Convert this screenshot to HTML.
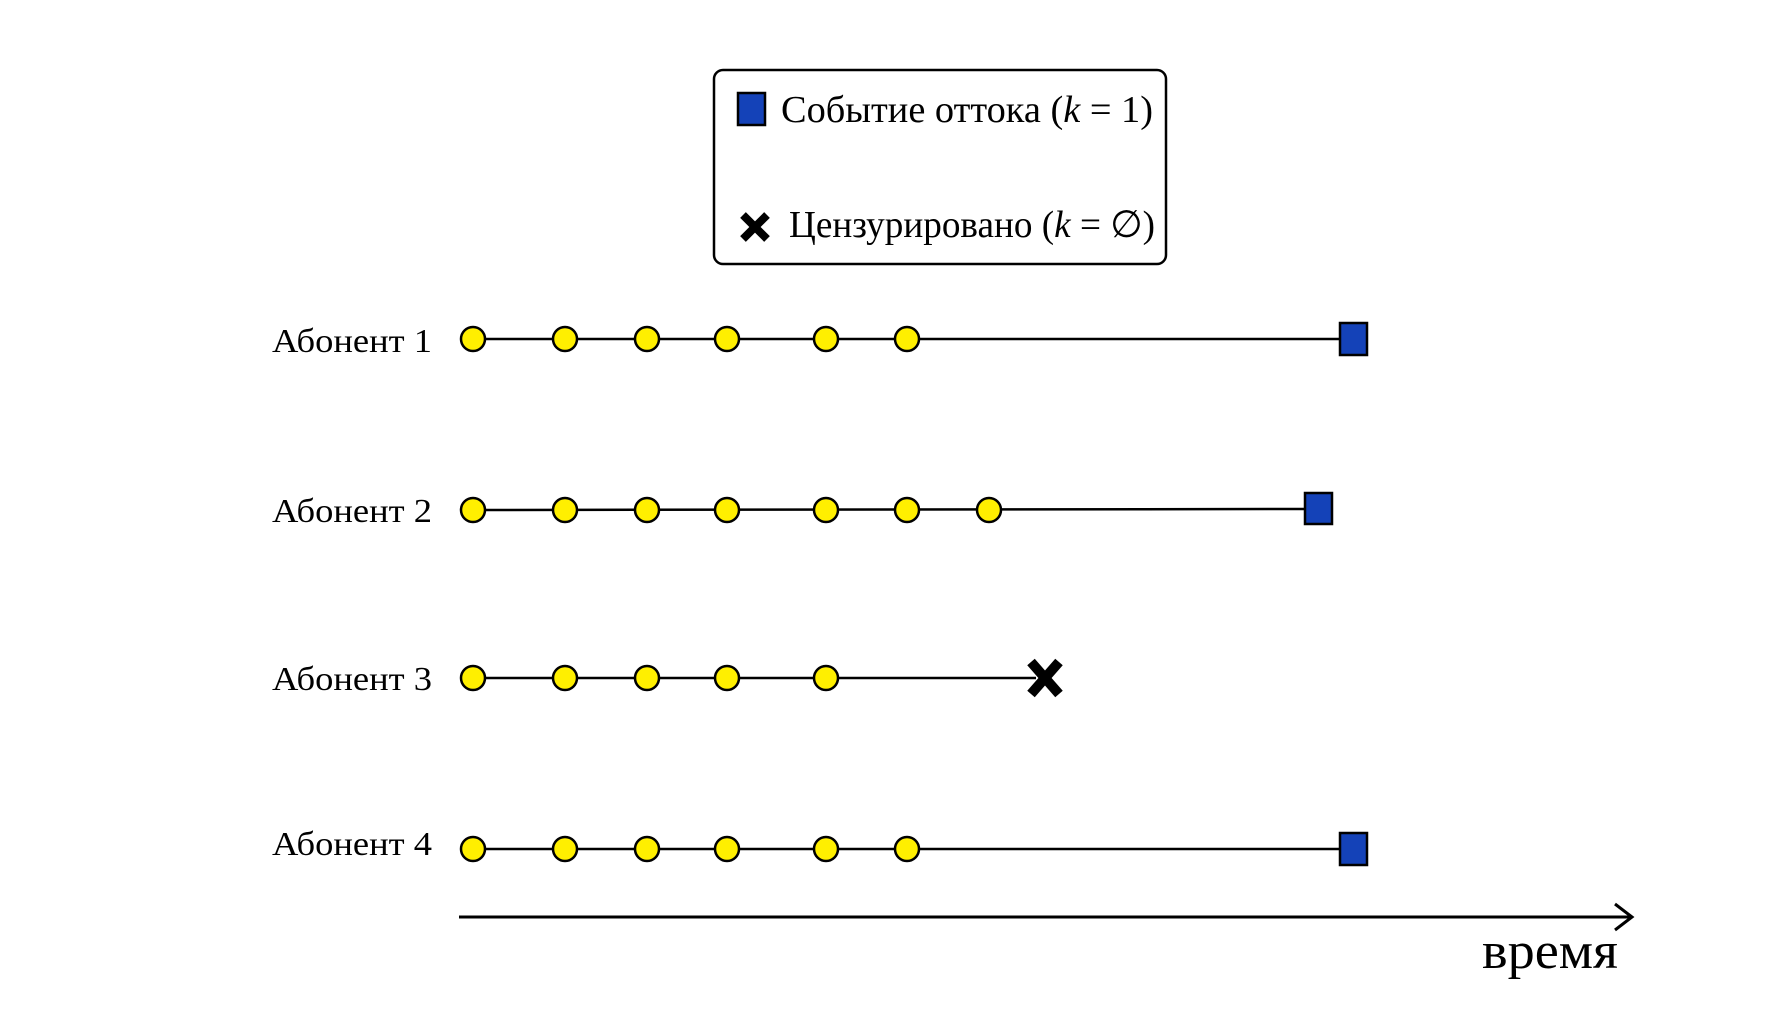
<!DOCTYPE html>
<html><head><meta charset="utf-8"><style>
html,body{margin:0;padding:0;background:#fff;}
svg text{font-family:"Liberation Serif",serif;fill:#000;}
</style></head><body>
<svg width="1769" height="1024" viewBox="0 0 1769 1024" xmlns="http://www.w3.org/2000/svg">
<rect x="714" y="70" width="452" height="194" rx="9" fill="#fff" stroke="#000" stroke-width="2.5"/>
<rect x="738" y="93" width="27" height="32" fill="#1442b8" stroke="#000" stroke-width="2.5"/>
<text x="781" y="122" font-size="38" textLength="372" lengthAdjust="spacingAndGlyphs">Событие оттока (<tspan font-style="italic">k</tspan> = 1)</text>
<g stroke="#000" stroke-width="8" stroke-linecap="butt"><line x1="743" y1="215" x2="767" y2="239"/><line x1="767" y1="215" x2="743" y2="239"/></g>
<text x="789" y="237" font-size="38" textLength="366" lengthAdjust="spacingAndGlyphs">Цензурировано (<tspan font-style="italic">k</tspan> = ∅)</text>

<g font-size="34">
<text x="272" y="352" textLength="160" lengthAdjust="spacingAndGlyphs">Абонент 1</text>
<text x="272" y="522" textLength="160" lengthAdjust="spacingAndGlyphs">Абонент 2</text>
<text x="272" y="690" textLength="160" lengthAdjust="spacingAndGlyphs">Абонент 3</text>
<text x="272" y="855" textLength="160" lengthAdjust="spacingAndGlyphs">Абонент 4</text>
</g>
<g stroke="#000" stroke-width="2.5">
<line x1="473" y1="339" x2="1340" y2="339"/>
<line x1="473" y1="510" x2="1305" y2="509"/>
<line x1="473" y1="678" x2="1036" y2="678"/>
<line x1="473" y1="849" x2="1340" y2="849"/>
</g>
<g fill="#ffef00" stroke="#000" stroke-width="2.5">
<circle cx="473" cy="339" r="12"/><circle cx="565" cy="339" r="12"/><circle cx="647" cy="339" r="12"/><circle cx="727" cy="339" r="12"/><circle cx="826" cy="339" r="12"/><circle cx="907" cy="339" r="12"/>
<circle cx="473" cy="510" r="12"/><circle cx="565" cy="510" r="12"/><circle cx="647" cy="510" r="12"/><circle cx="727" cy="510" r="12"/><circle cx="826" cy="510" r="12"/><circle cx="907" cy="510" r="12"/><circle cx="989" cy="510" r="12"/>
<circle cx="473" cy="678" r="12"/><circle cx="565" cy="678" r="12"/><circle cx="647" cy="678" r="12"/><circle cx="727" cy="678" r="12"/><circle cx="826" cy="678" r="12"/>
<circle cx="473" cy="849" r="12"/><circle cx="565" cy="849" r="12"/><circle cx="647" cy="849" r="12"/><circle cx="727" cy="849" r="12"/><circle cx="826" cy="849" r="12"/><circle cx="907" cy="849" r="12"/>
</g>
<g fill="#1442b8" stroke="#000" stroke-width="2.5">
<rect x="1340" y="323" width="27" height="32"/>
<rect x="1305" y="493" width="27" height="31"/>
<rect x="1340" y="833" width="27" height="32"/>
</g>
<g stroke="#000" stroke-width="10"><line x1="1031" y1="662" x2="1059" y2="694"/><line x1="1059" y1="662" x2="1031" y2="694"/></g>
<line x1="459" y1="917" x2="1631" y2="917" stroke="#000" stroke-width="3"/>
<polyline points="1615,904 1632,917 1615,930" fill="none" stroke="#000" stroke-width="3"/>
<text x="1482" y="968" font-size="52" textLength="136" lengthAdjust="spacingAndGlyphs">время</text>
</svg>
</body></html>
